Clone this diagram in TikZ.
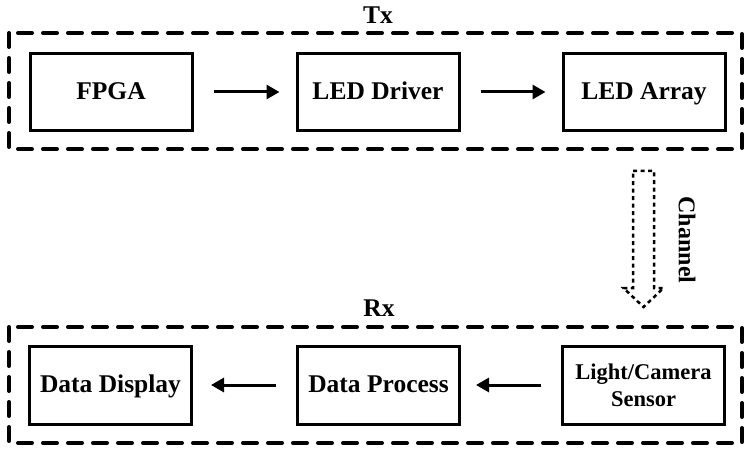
\documentclass[tikz,border=0pt]{standalone}
\usepackage{fontspec}
\setmainfont{Liberation Serif}
\usetikzlibrary{arrows.meta,positioning,calc}

\begin{document}
\begin{tikzpicture}[x=1pt,y=-1pt,
 font=\fontsize{25.5}{30}\selectfont\bfseries,
 blk/.style={draw,line width=3pt,minimum width=162pt,minimum height=77pt,align=center,inner sep=0pt,text height=19pt,text depth=4pt},
 grp/.style={draw,line width=4pt,dash pattern=on 14pt off 11pt,line cap=round},
 arr/.style={-{Triangle[length=13pt,width=14pt]},line width=3pt,shorten <=20pt,shorten >=16pt},
 chan/.style={draw,line width=2.5pt,dash pattern=on 4pt off 3.5pt}]
\useasboundingbox (0,0) rectangle (746,449);
% transmitter side
\draw[grp] (9,33) rectangle (742,149);
\node (txlab) at (378,15) {Tx};
\node[blk] (fpga) at (111,92) {FPGA};
\node[blk] (drv) at (378,92) {LED Driver};
\node[blk] (led) at (644,92) {LED Array};
\draw[arr] (fpga)--(drv);\draw[arr] (drv)--(led);
% optical channel
\coordinate (chs) at (643.5,171);
\coordinate (che) at (643.5,307);
\draw[chan] ($(chs)+(-10.5,0)$) -- ($(chs)+(10.5,0)$) -- ($(che)+(10.5,-19)$) -- ($(che)+(20,-19)$)
  -- (che) -- ($(che)+(-20,-19)$) -- ($(che)+(-10.5,-19)$) -- cycle;
\node[rotate=-90,font=\fontsize{24}{28}\selectfont\bfseries] (chlab) at (687,240) {Channel};
% receiver side
\draw[grp] (9,327) rectangle (742,443);
\node (rxlab) at (379,308) {Rx};
\node[blk,minimum height=78pt] (disp) at (110.5,385) {Data Display};
\node[blk,minimum height=78pt] (proc) at (378.5,385) {Data Process};
\node[blk,minimum height=78pt,text height={},text depth={},font=\fontsize{22.5}{27}\selectfont\bfseries] (sens) at (643.5,385) {Light/Camera\\Sensor};
\draw[arr,shorten >=18pt] (proc)--(disp);\draw[arr,shorten >=15pt] (sens)--(proc);
\end{tikzpicture}
\end{document}
